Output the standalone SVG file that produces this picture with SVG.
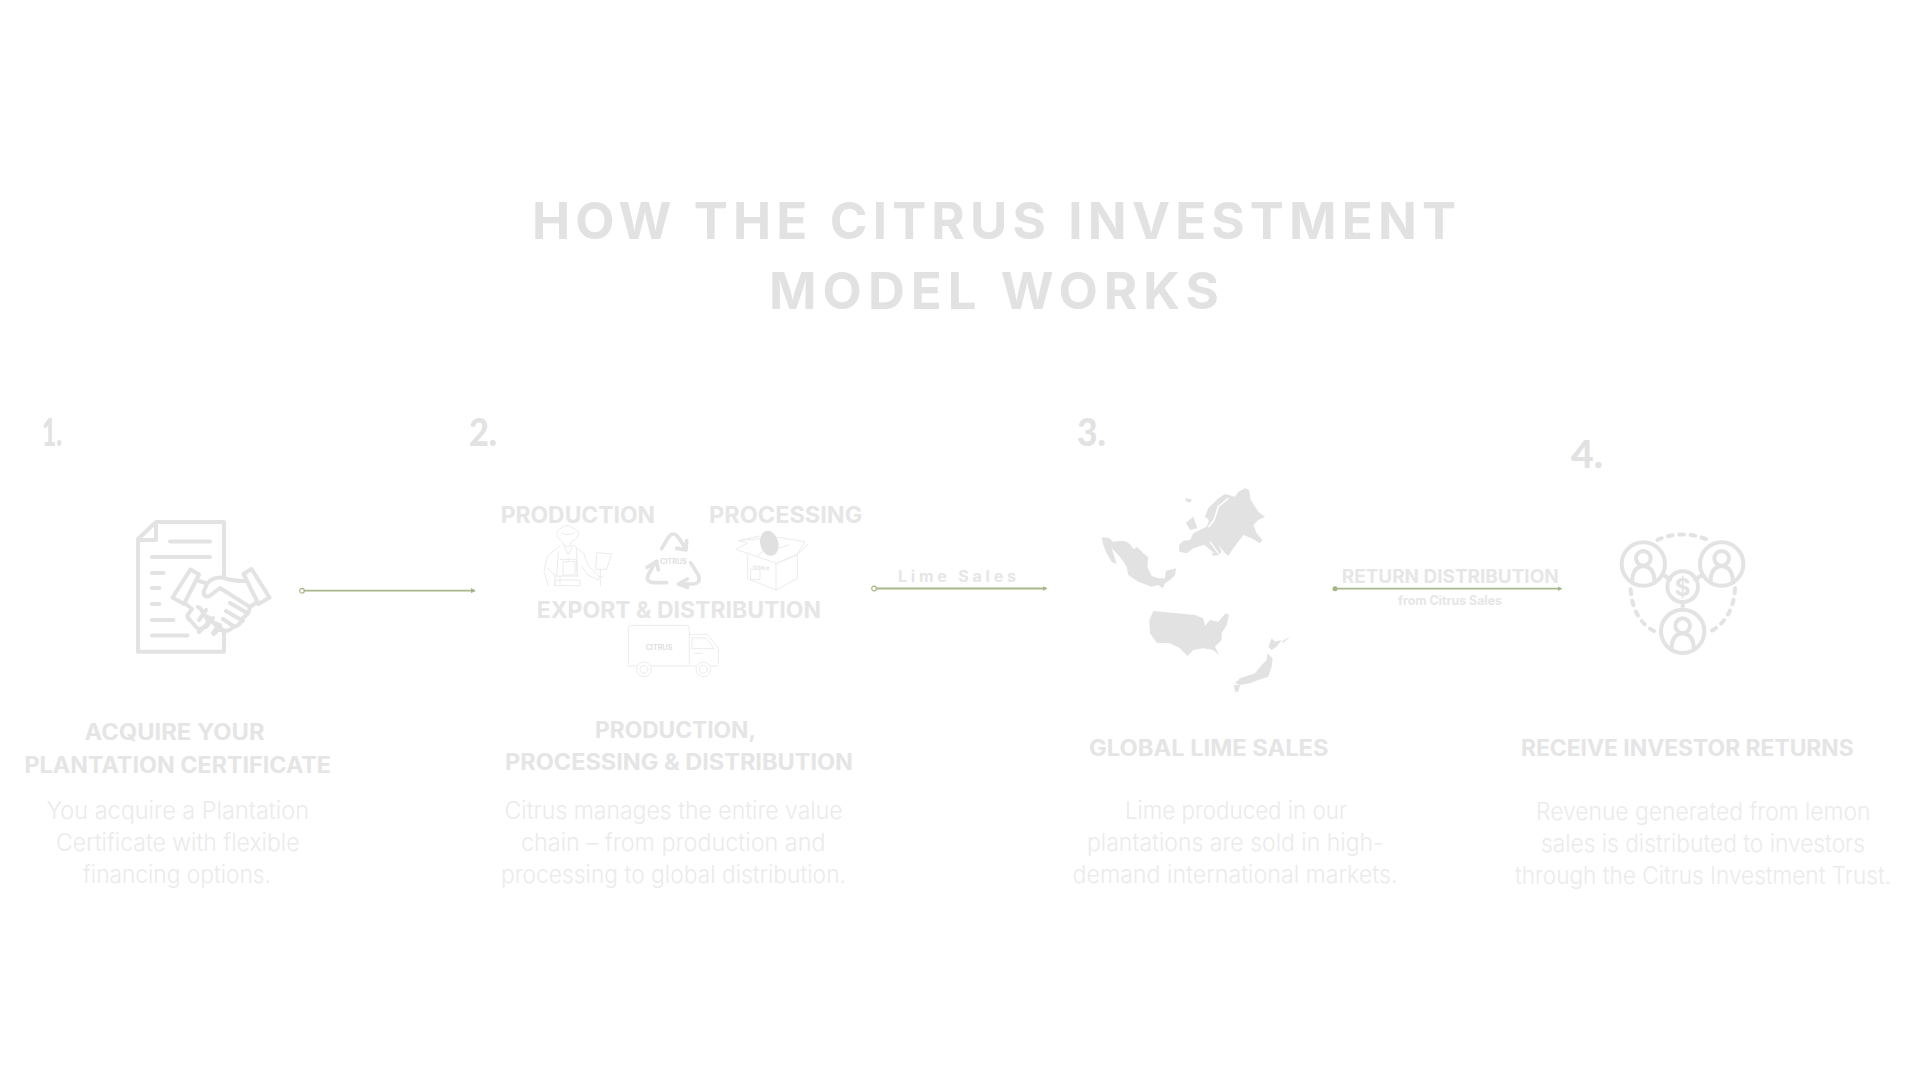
<svg xmlns="http://www.w3.org/2000/svg" width="1920" height="1080" viewBox="0 0 1920 1080">
<style>
text{font-family:"Inter","Liberation Sans",sans-serif}
.title{font-size:51px;font-weight:700;fill:#e2e2e2}
.num{font-size:37px;font-weight:900;fill:#e2e2e2;font-family:"Lato","Liberation Sans",sans-serif}
.head{font-size:22.500px;font-weight:700;fill:#e5e5e5}
.sub{font-size:23px;font-weight:700;fill:#e6e6e6}
.body{font-size:24px;font-weight:300;fill:#ebebeb}
.clabel{font-weight:700;fill:#e6e6e6}
.conn{stroke:#a9b88c;stroke-width:1.8;fill:none}
.ic{fill:none;stroke:#e3e3e3;stroke-linecap:round;stroke-linejoin:round}
.thin{fill:none;stroke:#ebebeb;stroke-width:3;stroke-linejoin:round;stroke-linecap:round}
.map{fill:#e2e2e2}
.logo{font-size:21px;font-weight:600;fill:#dcdcdc;text-anchor:middle}
</style>
<defs>
<marker id="arrow" markerUnits="userSpaceOnUse" markerWidth="6" markerHeight="6" refX="4" refY="3" orient="auto"><path d="M0 0.400L4.500 3L0 5.600Z" fill="#a3b584"/></marker>
<marker id="ringStart" markerUnits="userSpaceOnUse" markerWidth="7" markerHeight="7" refX="3.500" refY="3.500"><circle cx="3.500" cy="3.500" r="2.300" fill="#fff" stroke="#a3b584" stroke-width="1.200"/></marker>
<marker id="dotStart" markerUnits="userSpaceOnUse" markerWidth="7" markerHeight="7" refX="3.500" refY="3.500"><circle cx="3.500" cy="3.500" r="2.500" fill="#a3b584"/></marker>
</defs>
<rect width="1920" height="1080" fill="#ffffff"/>

<g id="title">
<text class="title" x="532" y="238.500" textLength="924" lengthAdjust="spacing">HOW THE CITRUS INVESTMENT</text>
<text class="title" x="769" y="308.500" textLength="450" lengthAdjust="spacing">MODEL WORKS</text>
</g>

<g id="connectors">
<path class="conn" d="M302 590.700H475" marker-start="url(#ringStart)" marker-end="url(#arrow)"/>
<path class="conn" d="M874 588.500H1046.500" marker-start="url(#ringStart)" marker-end="url(#arrow)"/>
<path class="conn" d="M1335 588.700H1561.500" marker-start="url(#dotStart)" marker-end="url(#arrow)"/>
<text class="clabel" x="898" y="581.700" font-size="16" textLength="118" lengthAdjust="spacing">Lime Sales</text>
<text class="clabel" x="1341.700" y="583" font-size="19" textLength="217" lengthAdjust="spacingAndGlyphs">RETURN DISTRIBUTION</text>
<text class="clabel" x="1398" y="605" font-size="12.500" textLength="104" lengthAdjust="spacingAndGlyphs">from Citrus Sales</text>
</g>

<g id="step-1">
<text class="num" x="42" y="445.500" textLength="20" lengthAdjust="spacingAndGlyphs">1.</text>
<g id="icon-certificate" class="ic" stroke-width="4">
<path d="M224 578V522H156L138 539V651.700H224V630"/>
<path d="M156 522V540H138" stroke-linecap="butt"/>
<path d="M170 541.500H210M152 557H210M152 573H163.500M152 588H159.500M152 604H159.500M152 620H173.500M152 635.500H187.500"/>
<path d="M190.500 569.500L199 574.500L184 604L172.500 597.500Z"/>
<path d="M251.500 569L243.500 574L258.500 604L269.500 597.500Z"/>
<path d="M199 581L207 583.500Q212 577 222 577.500Q232 581 245 581M207 584L203.500 592Q204 598 209.500 596L220 588L250 607L257 602M250 607Q249 614 243 618Q240 626 233 627Q228 633 220 630M186 604L192 609M230 603L248 613.500M226 611L243 621M223 619L234 626.500M192 609L187.500 615Q187 618 190 620L198 629Q202 629 204 627M198 607Q202 609 203 613L208 620Q208 624 204 627L199 632M205 616Q210 617 213 622L217 627Q218 631 214 634M214 623Q220 624 222 630L215 630"/>
<path d="M199 620L206 610M206 627L213 618M213 633L220 625"/>
</g>
<text class="head" x="84.500" y="739.500" textLength="180" lengthAdjust="spacingAndGlyphs">ACQUIRE YOUR</text>
<text class="head" x="24.500" y="772.500" textLength="306.500" lengthAdjust="spacingAndGlyphs">PLANTATION CERTIFICATE</text>
<text class="body" x="46.500" y="818.500" textLength="262.500" lengthAdjust="spacingAndGlyphs">You acquire a Plantation</text>
<text class="body" x="56" y="850.500" textLength="243.500" lengthAdjust="spacingAndGlyphs">Certificate with flexible</text>
<text class="body" x="83" y="882.500" textLength="188" lengthAdjust="spacingAndGlyphs">financing options.</text>
</g>

<g id="step-2">
<text class="num" x="469" y="445.500" textLength="28" lengthAdjust="spacingAndGlyphs">2.</text>
<text class="sub" x="500.700" y="522.500" textLength="154.300" lengthAdjust="spacingAndGlyphs">PRODUCTION</text>
<text class="sub" x="709" y="522.500" textLength="153.300" lengthAdjust="spacingAndGlyphs">PROCESSING</text>
<text class="sub" x="536.700" y="617.500" textLength="284.300" lengthAdjust="spacingAndGlyphs">EXPORT &amp; DISTRIBUTION</text>
<g transform="translate(460 480) scale(.33333)">
<g id="icon-farmer" class="thin">
<path d="M310 140Q320 132 335 142Q358 150 356 165Q350 180 335 184L330 198Q320 202 312 196L306 184Q290 172 290 160Q292 148 310 140Z"/>
<path d="M306 160Q325 170 345 158"/>
<path d="M298 200L262 228L252 275L265 317M340 195L372 222L385 258L420 292L415 300L383 285L365 258M262 265L285 285L285 317M295 215L290 290M350 205L352 290M300 238H350L352 288H285"/>
<path d="M310 245H345V285H310ZM325 235V245M312 195L325 225L338 195"/>
<path d="M285 300H360V317H285ZM300 288V317"/>
<path d="M412 218L455 222L440 268L408 268ZM421 268V317M417 290H428"/>
</g>
<g id="icon-recycle" class="ic" stroke-width="11">
<path d="M605 206L625 172Q640 152 655 172L672 198M650 205L678 210L680 182"/>
<path d="M620 308H582Q555 306 565 285L584 250M561 262L590 244L595 270"/>
<path d="M692 248L715 285Q725 312 695 312H658M682 297L655 312L682 322"/>
</g>
<text class="logo" x="641" y="253" textLength="80" lengthAdjust="spacingAndGlyphs">CITRUS</text>
<g id="icon-box" class="thin">
<path d="M835 182L898 168M955 172L1035 185L1012 222L950 250L827 208L862 190L835 182ZM1045 192L1012 225L950 250M863 225V296L948 330L1012 295V225M948 250V330"/>
<path d="M873 268H900V298H873Z"/>
<path d="M892 228L915 210M955 205L985 195"/>
</g>
<ellipse id="icon-lime" cx="928" cy="190" rx="27" ry="38" transform="rotate(-15 928 190)" fill="#e0e0e0"/>
<text class="logo" x="903" y="268" font-size="13" textLength="50" lengthAdjust="spacingAndGlyphs" transform="rotate(8 903 268)" style="font-size:13px">CITRUS</text>
<g id="icon-truck" class="thin">
<path d="M505 552V446Q505 436 515 436H678Q688 436 688 446V552"/>
<path d="M688 463H742L775 505V552"/>
<path d="M697 474H738L763 506H697Z"/>
<path d="M702 520H728"/>
<path d="M503 558H530M575 558H707M752 558H775"/>
<circle cx="552" cy="568" r="22"/><circle cx="552" cy="568" r="12"/>
<circle cx="730" cy="568" r="22"/><circle cx="730" cy="568" r="12"/>
</g>
<text class="logo" x="597" y="511" textLength="80" lengthAdjust="spacingAndGlyphs">CITRUS</text>
</g>
<text class="head" x="595" y="737.500" textLength="161" lengthAdjust="spacingAndGlyphs">PRODUCTION,</text>
<text class="head" x="505" y="770" textLength="348" lengthAdjust="spacingAndGlyphs">PROCESSING &amp; DISTRIBUTION</text>
<text class="body" x="504.600" y="818.500" textLength="338" lengthAdjust="spacingAndGlyphs">Citrus manages the entire value</text>
<text class="body" x="521" y="850.500" textLength="304.500" lengthAdjust="spacingAndGlyphs">chain – from production and</text>
<text class="body" x="501" y="882.500" textLength="345" lengthAdjust="spacingAndGlyphs">processing to global distribution.</text>
</g>

<g id="step-3">
<text class="num" x="1077" y="445.500" textLength="29" lengthAdjust="spacingAndGlyphs">3.</text>
<g id="icon-maps" class="map" transform="translate(860 470) scale(.33333)">
<path d="M725 202L745 203L760 215L790 212L805 218L822 238L830 230L850 250L865 262L862 290L875 318L895 325L915 325L918 302L948 295L945 315L930 330L915 340L908 355L895 345L875 350L835 335L805 315L800 290L780 260L755 235L770 282L755 275L740 250L730 225Z"/>
<path d="M1155 55L1167 60L1172 90L1195 125L1215 140L1195 150L1180 165L1190 190L1207 210L1200 220L1175 205L1150 195L1135 215L1120 235L1105 258L1095 250L1075 225L1085 245L1075 255L1060 258L1045 235L1030 225L1000 235L980 250L958 245L957 225L970 212L990 210L1000 190L1020 180L1040 170L1047 150L1035 140L1045 115L1075 85L1095 72L1125 80L1135 65Z"/>
<path d="M978 158L1000 140L1012 175L990 180Z"/>
<path d="M975 85L995 88L992 97L978 95Z"/>
<path d="M880 423L1005 435L1030 445L1035 468L1050 450L1075 455L1097 430L1107 435L1100 465L1085 490L1085 510L1065 530L1077 555L1060 540L1030 535L1000 540L982 558L960 535L930 520L890 518L870 490L868 450Z"/>
<path d="M1235 505L1245 515L1265 510L1250 530L1235 540L1225 530Z"/>
<path d="M1222 550L1238 565L1235 590L1225 620L1195 630L1170 640L1140 645L1125 640L1140 625L1185 610L1205 585L1220 570Z"/>
<path d="M1122 645L1140 645L1135 665L1125 665Z"/>
<path d="M1265 515L1288 500L1285 505L1270 518Z"/>
<path d="M1105 85L1075 110L1062 150L1045 172" fill="none" stroke="#fff" stroke-width="5"/>
<path d="M1030 225L1060 250M1050 215L1075 250" fill="none" stroke="#fff" stroke-width="4"/>
</g>
<text class="head" x="1089" y="755.500" textLength="239.500" lengthAdjust="spacingAndGlyphs">GLOBAL LIME SALES</text>
<text class="body" x="1125" y="818.500" textLength="222" lengthAdjust="spacingAndGlyphs">Lime produced in our</text>
<text class="body" x="1087" y="850.500" textLength="296.500" lengthAdjust="spacingAndGlyphs">plantations are sold in high-</text>
<text class="body" x="1072.500" y="882.500" textLength="325" lengthAdjust="spacingAndGlyphs">demand international markets.</text>
</g>

<g id="step-4">
<text class="num" x="1571" y="467.500" textLength="32" lengthAdjust="spacingAndGlyphs">4.</text>
<g id="icon-investors" transform="translate(1320 430) scale(.33333)">
<g class="ic" stroke-width="12">
<circle cx="970" cy="402" r="65"/><circle cx="1205" cy="402" r="65"/><circle cx="1088" cy="604" r="65"/><circle cx="1088" cy="470" r="46"/>
<path d="M1035 438L1050 448M1125 448L1142 438M1088 516V535"/>
<path d="M1012 330Q1085 298 1160 328M932 478Q938 570 1005 605M1245 475Q1240 565 1175 602" stroke-dasharray="14 20"/>
<circle cx="970" cy="385" r="22"/><circle cx="1205" cy="385" r="22"/><circle cx="1088" cy="587" r="22"/>
<path d="M937 458Q935 412 970 408Q1005 412 1003 458M1172 458Q1170 412 1205 408Q1240 412 1238 458M1055 660Q1053 614 1088 610Q1123 614 1121 660"/>
</g>
<text x="1088" y="497" text-anchor="middle" font-size="72" font-weight="700" fill="#e3e3e3">$</text>
</g>
<text class="head" x="1521" y="755.500" textLength="332.700" lengthAdjust="spacingAndGlyphs">RECEIVE INVESTOR RETURNS</text>
<text class="body" x="1536" y="819.500" textLength="334.500" lengthAdjust="spacingAndGlyphs">Revenue generated from lemon</text>
<text class="body" x="1541" y="851.500" textLength="324" lengthAdjust="spacingAndGlyphs">sales is distributed to investors</text>
<text class="body" x="1515" y="883.500" textLength="376" lengthAdjust="spacingAndGlyphs">through the Citrus Investment Trust.</text>
</g>
</svg>
